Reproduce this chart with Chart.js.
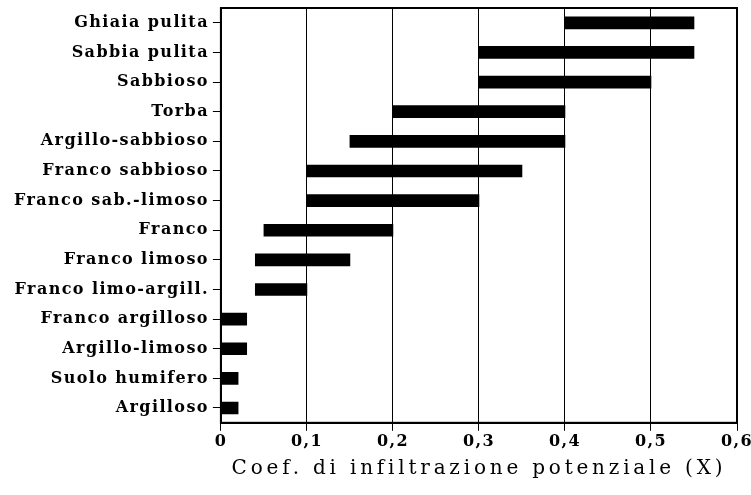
<!DOCTYPE html>
<html>
<head>
<meta charset="utf-8">
<script src="https://cdn.jsdelivr.net/npm/chart.js@4"></script>
<style>
  html, body { margin: 0; padding: 0; background: #fff; }
  #wrap { width: 751px; height: 495px; }
</style>
</head>
<body>
<div id="wrap"><canvas id="myChart" width="751" height="495"></canvas></div>
<script>
// tipi di terreno, dall'alto in basso
var soils = ['Ghiaia pulita', 'Sabbia pulita', 'Sabbioso', 'Torba', 'Argillo-sabbioso',
    'Franco sabbioso', 'Franco sab.-limoso', 'Franco', 'Franco limoso', 'Franco limo-argill.',
    'Franco argilloso', 'Argillo-limoso', 'Suolo humifero', 'Argilloso'];
var coefMin = [0.40, 0.30, 0.30, 0.20, 0.15, 0.10, 0.10, 0.05, 0.04, 0.04, 0, 0, 0, 0];
var coefMax = [0.55, 0.55, 0.50, 0.40, 0.40, 0.35, 0.30, 0.20, 0.15, 0.10, 0.03, 0.03, 0.02, 0.02];
var xTickLabels = ['0', '0,1', '0,2', '0,3', '0,4', '0,5', '0,6'];
var xTitle = 'Coef. di infiltrazione potenziale (X)';

var ranges = [];
for (var i = 0; i < soils.length; i++) {
    ranges.push([coefMin[i], coefMax[i]]);
}

// spaziatura lettere + cornice del grafico
var spacing = '1.4px';
var titleSpacing = '3.8px';
var framePlugin = {
    id: 'frame',
    beforeLayout: function (chart) { chart.ctx.letterSpacing = spacing; },
    beforeDraw: function (chart) {
        chart.ctx.letterSpacing = spacing;
        var s = chart.scales.x;
        if (s && !s._spaced) {
            var orig = s.drawTitle;
            s.drawTitle = function () {
                var c = this.ctx;
                c.letterSpacing = titleSpacing;
                orig.apply(this, arguments);
                c.letterSpacing = spacing;
            };
            s._spaced = true;
        }
    },
    afterDraw: function (chart) {
        var a = chart.chartArea;
        var ctx = chart.ctx;
        ctx.save();
        ctx.strokeStyle = '#000';
        ctx.lineWidth = 2;
        ctx.strokeRect(a.left, a.top, a.right - a.left, a.bottom - a.top);
        ctx.restore();
    }
};

var ctx = document.getElementById('myChart').getContext('2d');
var myChart = new Chart(ctx, {
    type: 'bar',
    data: {
        labels: soils,
        datasets: [{
            data: ranges,
            backgroundColor: '#000',
            borderWidth: 0,
            barThickness: 12
        }]
    },
    options: {
        indexAxis: 'y',
        responsive: false,
        animation: false,
        layout: { padding: { left: 10, right: 0, top: 8, bottom: 14 } },
        plugins: {
            legend: { display: false },
            tooltip: { enabled: false }
        },
        scales: {
            x: {
                type: 'linear',
                min: 0,
                max: 0.6,
                afterFit: function (scale) { scale.paddingRight = 14; },
                ticks: {
                    stepSize: 0.1,
                    color: '#000',
                    padding: 1,
                    font: { family: 'DejaVu Serif', size: 16, weight: 'bold' },
                    callback: function (v, i) { return xTickLabels[i]; }
                },
                grid: { color: '#000', lineWidth: 1, tickLength: 8 },
                border: { color: '#000', width: 2 },
                title: {
                    display: true,
                    text: xTitle,
                    color: '#000',
                    padding: { top: 5, bottom: 0 },
                    font: { family: 'DejaVu Serif', size: 20, weight: 'normal' }
                }
            },
            y: {
                afterFit: function (scale) { scale.paddingTop = 0; scale.paddingBottom = 0; },
                ticks: {
                    color: '#000',
                    padding: 4,
                    font: { family: 'DejaVu Serif', size: 16, weight: 'bold' }
                },
                grid: { display: true, drawOnChartArea: false, offset: false, color: '#000', tickLength: 8 },
                border: { color: '#000', width: 2 }
            }
        }
    },
    plugins: [framePlugin]
});
</script>
</body>
</html>
